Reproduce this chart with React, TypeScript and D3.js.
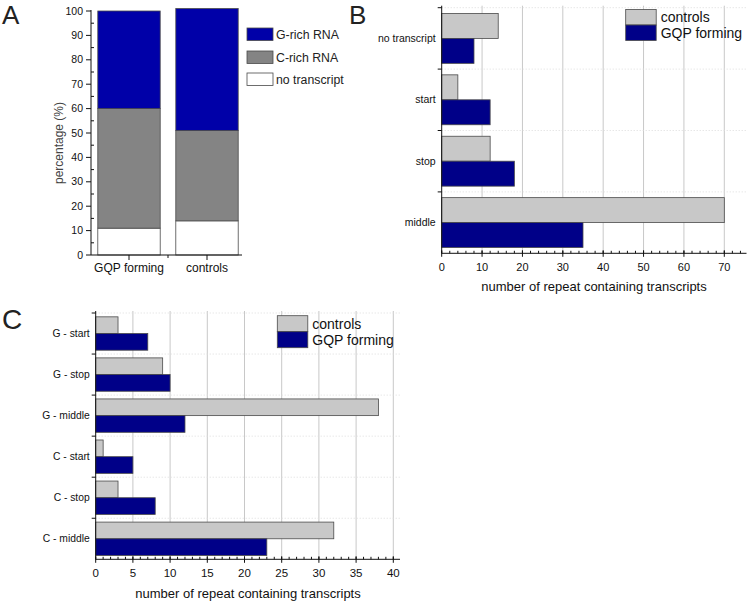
import React from "react";
import * as d3 from "d3";

// ---- Panel A data ----
const groupsA = ["GQP forming", "controls"];
const seriesA = ["no transcript", "C-rich RNA", "G-rich RNA"];
const noTranscriptA = [11, 14];
const cRichA = [49, 37];
const gRichA = [40, 50];
const ticksA = [0, 10, 20, 30, 40, 50, 60, 70, 80, 90, 100];

// ---- Panel B data ----
const categoriesB = ["no transcript", "start", "stop", "middle"];
const controlsB = [14, 4, 12, 70];
const gqpB = [8, 12, 18, 35];
const ticksB = [0, 10, 20, 30, 40, 50, 60, 70];

// ---- Panel C data ----
const categoriesC = ["G - start", "G - stop", "G - middle", "C - start", "C - stop", "C - middle"];
const controlsC = [3, 9, 38, 1, 3, 32];
const gqpC = [7, 10, 12, 5, 8, 23];
const ticksC = [0, 5, 10, 15, 20, 25, 30, 35, 40];

const seriesNames = ["controls", "GQP forming"];

const FONT = "Liberation Sans, Arial, Helvetica, sans-serif";
const COL_G = "#0000a8";
const COL_C = "#848484";
const COL_CTRL = "#c8c8c8";
const COL_GQP = "#000088";
const STROKE = "#4a4a4a";

function PanelA() {
  const y = d3.scaleLinear().domain([0, 100]).range([255, 11]);
  const x = d3.scaleBand<string>().domain(groupsA).range([90, 246]).paddingInner(0.2).paddingOuter(0.1);
  const stack = d3
    .stack<number>()
    .keys([0, 1, 2].map(String))
    .value((i, k) => [noTranscriptA, cRichA, gRichA][+k][i]);
  const layers = stack(groupsA.map((_, i) => i));
  const fills = ["#ffffff", COL_C, COL_G];
  const minor = d3.range(5, 100, 10);
  const xAxisY = y(0);
  const xAxisEnd = 242;
  const mids = [x(groupsA[0])! + x.bandwidth() / 2, x(groupsA[1])! + x.bandwidth() / 2];
  const legendY = [28, 51, 73];
  const legendOrder = [2, 1, 0];
  return (
    <g>
      <text x={2} y={24} fontSize={26} fontFamily={FONT} fill="#222">A</text>
      {layers.map((layer, li) =>
        layer.map((d, gi) => (
          <rect
            key={`${li}-${gi}`}
            x={x(groupsA[gi])}
            width={x.bandwidth()}
            y={y(d[1])}
            height={y(d[0]) - y(d[1])}
            fill={fills[li]}
            stroke={STROKE}
            strokeWidth={0.8}
          />
        ))
      )}
      <line x1={91} x2={91} y1={y(100) - 1} y2={xAxisY} stroke="#111" strokeWidth={1} />
      <line x1={91} x2={xAxisEnd} y1={xAxisY} y2={xAxisY} stroke="#111" strokeWidth={1} />
      {ticksA.map((t) => (
        <g key={t}>
          <line x1={86} x2={91} y1={y(t)} y2={y(t)} stroke="#111" />
          <text x={83} y={y(t)} dy="0.35em" textAnchor="end" fontSize={10.5} fontFamily={FONT} fill="#111">
            {t}
          </text>
        </g>
      ))}
      {minor.map((t) => (
        <line key={t} x1={91} x2={94} y1={y(t)} y2={y(t)} stroke="#111" />
      ))}
      {mids.map((m, i) => (
        <g key={i}>
          <line x1={m} x2={m} y1={xAxisY} y2={xAxisY + 5} stroke="#111" />
          <text x={m} y={272} textAnchor="middle" fontSize={12} fontFamily={FONT} fill="#111">
            {groupsA[i]}
          </text>
        </g>
      ))}
      <line x1={(mids[0] + mids[1]) / 2} x2={(mids[0] + mids[1]) / 2} y1={xAxisY} y2={xAxisY + 3} stroke="#111" />
      <text
        transform={`translate(63,143) rotate(-90)`}
        textAnchor="middle"
        fontSize={12}
        fontFamily={FONT}
        fill="#444"
      >
        percentage (%)
      </text>
      {legendOrder.map((si, i) => (
        <g key={si}>
          <rect x={247} y={legendY[i]} width={26} height={12.5} fill={fills[si]} stroke={STROKE} strokeWidth={0.8} />
          <text x={276} y={legendY[i] + 6.5} dy="0.35em" fontSize={12.3} fontFamily={FONT} fill="#222">
            {seriesA[si]}
          </text>
        </g>
      ))}
    </g>
  );
}

interface HProps {
  categories: string[];
  controls: number[];
  gqp: number[];
  ticks: number[];
  x0: number;
  xDomainMax: number;
  xRangeMax: number;
  axisEnd: number;
  top: number;
  bottom: number;
  minorStep: number;
  labelFont: number;
  tickFont: number;
  titleX: number;
  titleY: number;
  legendX: number;
  legendY: number;
  legendH: number;
  letter: string;
  letterX: number;
  letterY: number;
  letterSize: number;
}

function HBar(p: HProps) {
  const x = d3.scaleLinear().domain([0, p.xDomainMax]).range([p.x0, p.xRangeMax]);
  const yb = d3.scaleBand<string>().domain(p.categories).range([p.top, p.bottom]);
  const ys = d3.scaleBand<string>().domain(seriesNames).range([0, yb.bandwidth()]).paddingOuter(0.23);
  const maxVal = x.invert(p.axisEnd);
  const minor = d3.range(0, maxVal, p.minorStep);
  const vals = [p.controls, p.gqp];
  const fills = [COL_CTRL, COL_GQP];
  return (
    <g>
      <text x={p.letterX} y={p.letterY} fontSize={p.letterSize} fontFamily={FONT} fill="#222">
        {p.letter}
      </text>
      {/* vertical grid */}
      {p.ticks.slice(1).map((t) => (
        <line key={t} x1={x(t)} x2={x(t)} y1={p.top - 2} y2={p.bottom} stroke="#c8c8c8" strokeWidth={1} />
      ))}
      {/* horizontal dotted grid */}
      {p.categories.map((c, i) => (
        <line
          key={c}
          x1={p.x0}
          x2={p.axisEnd}
          y1={yb(c)!}
          y2={yb(c)!}
          stroke="#dcdcdc"
          strokeWidth={1}
          strokeDasharray="1,2"
        />
      ))}
      {p.categories.map((c, ci) =>
        seriesNames.map((s, si) => (
          <rect
            key={`${c}-${s}`}
            x={x(0)}
            y={yb(c)! + ys(s)!}
            width={x(vals[si][ci]) - x(0)}
            height={ys.bandwidth()}
            fill={fills[si]}
            stroke={STROKE}
            strokeWidth={0.8}
          />
        ))
      )}
      {/* y axis */}
      <line x1={p.x0} x2={p.x0} y1={p.top - 2} y2={p.bottom} stroke="#111" />
      {p.categories.map((c) => (
        <g key={c}>
          <line x1={p.x0 - 4} x2={p.x0} y1={yb(c)!} y2={yb(c)!} stroke="#111" />
          <text
            x={p.x0 - 6}
            y={yb(c)! + yb.bandwidth() / 2}
            dy="0.35em"
            textAnchor="end"
            fontSize={p.labelFont}
            fontFamily={FONT}
            fill="#111"
          >
            {c}
          </text>
        </g>
      ))}
      {/* x axis */}
      <line x1={p.x0} x2={p.axisEnd} y1={p.bottom} y2={p.bottom} stroke="#111" />
      {minor.map((t) => (
        <line key={t} x1={x(t)} x2={x(t)} y1={p.bottom - 2.5} y2={p.bottom} stroke="#111" />
      ))}
      {p.ticks.map((t) => (
        <g key={t}>
          <line x1={x(t)} x2={x(t)} y1={p.bottom - 3} y2={p.bottom + 3.5} stroke="#111" />
          <text x={x(t)} y={p.bottom + 13.5} dy="0.35em" textAnchor="middle" fontSize={p.tickFont} fontFamily={FONT} fill="#111">
            {t}
          </text>
        </g>
      ))}
      <text x={p.titleX} y={p.titleY} dy="0.35em" textAnchor="middle" fontSize={13} fontFamily={FONT} fill="#111">
        number of repeat containing transcripts
      </text>
      {seriesNames.map((s, si) => (
        <g key={s}>
          <rect
            x={p.legendX}
            y={p.legendY + si * p.legendH}
            width={30.5}
            height={p.legendH}
            fill={fills[si]}
            stroke={STROKE}
            strokeWidth={0.8}
          />
          <text
            x={p.legendX + 35}
            y={p.legendY + si * p.legendH + p.legendH / 2}
            dy="0.35em"
            fontSize={14}
            fontFamily={FONT}
            fill="#111"
          >
            {s}
          </text>
        </g>
      ))}
    </g>
  );
}

export default function App() {
  return (
    <svg
      width={749}
      height={601}
      viewBox="0 0 749 601"
      style={{ position: "absolute", left: 0, top: 0, background: "#fff" }}
    >
      <rect width={749} height={601} fill="#fff" />
      <PanelA />
      <HBar
        categories={categoriesB}
        controls={controlsB}
        gqp={gqpB}
        ticks={ticksB}
        x0={441.7}
        xDomainMax={70}
        xRangeMax={724.3}
        axisEnd={746.5}
        top={7.7}
        bottom={253.3}
        minorStep={2}
        labelFont={10.5}
        tickFont={11}
        titleX={594}
        titleY={286}
        legendX={625.7}
        legendY={9.5}
        legendH={15.5}
        letter="B"
        letterX={349}
        letterY={24}
        letterSize={26}
      />
      <HBar
        categories={categoriesC}
        controls={controlsC}
        gqp={gqpC}
        ticks={ticksC}
        x0={95.7}
        xDomainMax={40}
        xRangeMax={393.3}
        axisEnd={400}
        top={313}
        bottom={559.3}
        minorStep={1}
        labelFont={10.3}
        tickFont={11.5}
        titleX={248}
        titleY={593}
        legendX={277.3}
        legendY={315.7}
        legendH={16}
        letter="C"
        letterX={2}
        letterY={329}
        letterSize={28}
      />
    </svg>
  );
}
